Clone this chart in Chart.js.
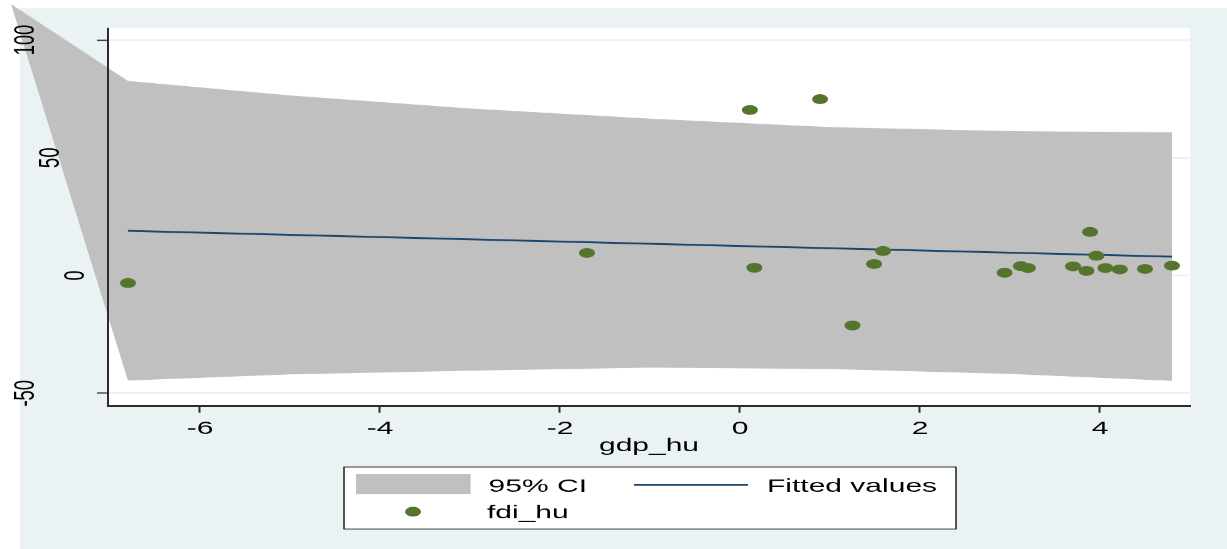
<!DOCTYPE html>
<html>
<head>
<meta charset="utf-8">
<script src="https://cdn.jsdelivr.net/npm/chart.js@4.4.1/dist/chart.umd.min.js"></script>
<style>
  html, body { margin: 0; padding: 0; background: #ffffff; overflow: hidden; }
  /* Stata graph is drawn at its own 5.5x4 aspect and squeezed to 549px high */
  #wrap { position: absolute; left: 0; top: 0; width: 1227px; height: 892px;
          transform: scaleY(0.6155); transform-origin: 0 0; }
</style>
</head>
<body>
<div id="wrap"><canvas id="fdi-chart" width="1227" height="892"></canvas></div>
<script>
// --- data ---
// x of the CI band (first point is the stray vertex Stata drew outside the plot)
const ciX     = [-8.1, -6.8, -5.0, -3.0, -1.0, 1.0, 3.0, 4.8];
const ciUpper = [115.3, 82.6, 76.5, 70.9, 66.6, 63.0, 61.3, 60.8];
const ciLower = [115.3, -44.6, -42.0, -40.4, -39.1, -39.7, -41.8, -44.7];

const fitX = [-6.8, 4.8];
const fitY = [19.0, 8.0];

const gdpHu = [-6.80, -1.70, 0.11, 0.16, 0.89, 1.25, 1.49, 1.59, 2.94, 3.12,
               3.20, 3.70, 3.85, 3.89, 3.96, 4.06, 4.22, 4.50, 4.80];
const fdiHu = [-3.2, 9.6, 70.3, 3.3, 74.9, -21.2, 4.9, 10.4, 1.2, 4.0,
               3.2, 3.9, 2.0, 18.5, 8.4, 3.2, 2.6, 2.8, 4.2];

const xTicks = [-6, -4, -2, 0, 2, 4];
const yTicks = [-50, 0, 50, 100];

const labels = ['95% CI', 'Fitted values', 'fdi_hu'];
const xTitle = 'gdp_hu';

// --- styles ---
const regionColor = '#eaf2f3';
const bandColor = '#c0c0c0';
const navy = '#1a476f';
const green = '#55752f';
const axisColor = '#2b2b2b';
const fontFamily = "'Liberation Sans', Arial, sans-serif";
const fontSize = 30;

const toPoints = (xs, ys) => xs.map((x, i) => ({ x: x, y: ys[i] }));

// Latar belakang, area band tanpa clip, label sumbu Y dan legend ala Stata
const stataPlugin = {
    id: 'stataFrame',
    beforeDraw(chart) {
        const { ctx, chartArea: a } = chart;
        ctx.save();
        ctx.fillStyle = '#ffffff';
        ctx.fillRect(0, 0, chart.width, chart.height);
        ctx.fillStyle = regionColor;
        ctx.fillRect(20, 13, chart.width - 20, chart.height - 13);
        ctx.fillStyle = '#ffffff';
        ctx.fillRect(a.left, a.top, a.right - a.left, a.bottom - a.top);
        ctx.restore();
    },
    beforeDatasetsDraw(chart) {
        // let the filler paint the band outside the plot region too
        chart._realArea = chart.chartArea;
        chart.chartArea = { left: 0, top: 0, right: chart.width, bottom: chart.height,
                            width: chart.width, height: chart.height };
    },
    afterDatasetsDraw(chart) {
        if (chart._realArea) chart.chartArea = chart._realArea;
        const { ctx } = chart;
        const yScale = chart.scales.y;
        ctx.save();
        ctx.font = `${fontSize}px ${fontFamily}`;
        ctx.fillStyle = '#000000';
        ctx.textAlign = 'center';
        ctx.textBaseline = 'alphabetic';
        yTicks.forEach(v => {
            const label = String(v);
            const py = yScale.getPixelForValue(v);
            const bx = chart.chartArea.left + 0.5 - 25 * label.length;
            ctx.save();
            ctx.translate(bx, py);
            ctx.rotate(-Math.PI / 2);
            ctx.fillText(label, 0, 0);
            ctx.restore();
        });
        ctx.restore();
    },
    afterDraw(chart) {
        const { ctx } = chart;
        const ds = chart.data.datasets;
        ctx.save();
        ctx.fillStyle = '#ffffff';
        ctx.fillRect(344, 758.7, 612, 100.8);
        ctx.strokeStyle = axisColor;
        ctx.lineWidth = 1.6;
        ctx.strokeRect(344, 758.7, 612, 100.8);

        ctx.fillStyle = ds[0].backgroundColor;
        ctx.fillRect(356, 770, 114.6, 33);

        ctx.strokeStyle = ds[2].borderColor;
        ctx.lineWidth = ds[2].borderWidth;
        ctx.beginPath();
        ctx.moveTo(634, 787.5);
        ctx.lineTo(748, 787.5);
        ctx.stroke();

        ctx.fillStyle = ds[3].backgroundColor;
        ctx.beginPath();
        ctx.arc(413, 831.3, ds[3].pointRadius, 0, Math.PI * 2);
        ctx.fill();

        ctx.font = `${fontSize}px ${fontFamily}`;
        ctx.fillStyle = '#000000';
        ctx.textBaseline = 'alphabetic';
        ctx.fillText(labels[0], 488.6, 798.9);
        ctx.fillText(labels[1], 767, 798.9);
        ctx.fillText(labels[2], 487, 842);
        ctx.restore();
    }
};

const ctx = document.getElementById('fdi-chart').getContext('2d');
new Chart(ctx, {
    type: 'line',
    data: {
        datasets: [
            {
                label: labels[0],
                data: toPoints(ciX, ciUpper),
                fill: '+1',
                backgroundColor: bandColor,
                borderColor: 'rgba(0,0,0,0)',
                borderWidth: 0,
                pointRadius: 0,
                tension: 0,
                clip: false,
                order: 3
            },
            {
                label: labels[0] + ' (lower)',
                data: toPoints(ciX, ciLower),
                fill: false,
                borderColor: 'rgba(0,0,0,0)',
                borderWidth: 0,
                pointRadius: 0,
                clip: false,
                order: 4
            },
            {
                label: labels[1],
                data: toPoints(fitX, fitY),
                fill: false,
                borderColor: navy,
                borderWidth: 3,
                pointRadius: 0,
                order: 2
            },
            {
                type: 'scatter',
                label: labels[2],
                data: toPoints(gdpHu, fdiHu),
                backgroundColor: green,
                borderColor: green,
                borderWidth: 0,
                pointRadius: 8,
                order: 1
            }
        ]
    },
    options: {
        responsive: false,
        devicePixelRatio: 1,
        animation: false,
        layout: { padding: { left: 0, top: 45.5, right: 37, bottom: 0 } },
        plugins: {
            legend: { display: false },
            tooltip: { enabled: false },
            filler: { propagate: false }
        },
        scales: {
            x: {
                type: 'linear',
                min: -7.022,
                max: 5.0,
                afterBuildTicks: (scale) => { scale.ticks = xTicks.map(v => ({ value: v })); },
                afterFit: (scale) => { scale.height = 232.4; },
                grid: { drawOnChartArea: false, drawTicks: true, tickLength: 11,
                        tickColor: axisColor, tickWidth: 2 },
                border: { display: true, color: axisColor, width: 3, z: 1 },
                ticks: { color: '#000000', padding: 8, maxRotation: 0, autoSkip: false,
                         font: { family: fontFamily, size: fontSize } },
                title: { display: true, text: xTitle, color: '#000000',
                         padding: { top: 0, bottom: 149.4 },
                         font: { family: fontFamily, size: fontSize } }
            },
            y: {
                type: 'linear',
                min: -55.4,
                max: 105.1,
                afterBuildTicks: (scale) => { scale.ticks = yTicks.map(v => ({ value: v })); },
                afterFit: (scale) => { scale.width = 108; },
                grid: { color: regionColor, lineWidth: 3, drawTicks: true, tickLength: 11,
                        tickColor: axisColor, tickWidth: 2 },
                border: { display: true, color: axisColor, width: 2, z: 1 },
                ticks: { display: false }
            }
        }
    },
    plugins: [stataPlugin]
});
</script>
</body>
</html>
